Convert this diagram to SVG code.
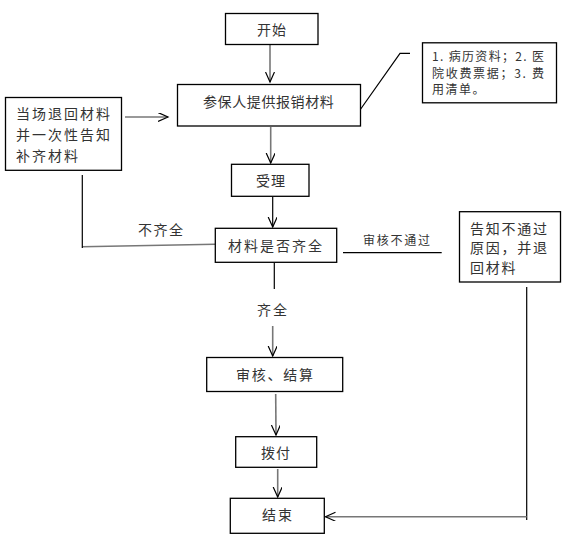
<svg xmlns="http://www.w3.org/2000/svg" width="574" height="550" viewBox="0 0 574 550">
<defs>
<style>
.box{fill:#fff;stroke:#000;stroke-width:1.3}
.t{font-family:"Noto Sans CJK SC","Noto Sans",sans-serif;font-size:14px;fill:#333;dominant-baseline:central}
.s{font-size:12px}
.g{stroke:#777;stroke-width:1.6;fill:none}
.k{stroke:#000;stroke-width:1.2;fill:none}
</style>
<marker id="ah" markerUnits="userSpaceOnUse" markerWidth="12" markerHeight="10" refX="10" refY="4.5" orient="auto">
<path d="M0,0 L10,4.5 L0,9" fill="none" stroke="#000" stroke-width="1.2"/>
</marker>
</defs>
<rect width="574" height="550" fill="#fff"/>
<g id="connectors">
<line class="g" x1="270" y1="45" x2="270" y2="82" marker-end="url(#ah)"/>
<line class="g" x1="270.7" y1="127" x2="270.7" y2="163" marker-end="url(#ah)"/>
<line class="g" x1="125" y1="117" x2="168" y2="117" marker-end="url(#ah)"/>
<line class="k" x1="272.7" y1="197" x2="272.7" y2="227" marker-end="url(#ah)"/>
<line class="g" x1="215" y1="244.3" x2="82" y2="246.8"/>
<line class="k" x1="82.3" y1="175" x2="82.3" y2="248"/>
<line class="k" x1="343" y1="252.7" x2="441.7" y2="252.7"/>
<line class="k" x1="274.3" y1="263" x2="274.3" y2="289"/>
<line class="g" x1="272.7" y1="326" x2="272.7" y2="356" marker-end="url(#ah)"/>
<line class="g" x1="275.7" y1="394" x2="276" y2="435" marker-end="url(#ah)"/>
<line class="g" x1="277.7" y1="469" x2="277.7" y2="497" marker-end="url(#ah)"/>
<line class="k" x1="526.7" y1="287" x2="526.7" y2="520"/>
<line class="g" x1="526.7" y1="516.7" x2="325.5" y2="516.7" marker-end="url(#ah)"/>
<polyline class="k" points="360,110 400,53.3 410,53.3"/>
</g>
<g id="start">
<rect class="box" x="225.5" y="13.5" width="92.5" height="31"/>
<text class="t" x="257" y="29" letter-spacing="1">开始</text>
</g>
<g id="submit">
<rect class="box" x="177.5" y="84.5" width="183" height="41.5"/>
<text class="t" x="203" y="101" letter-spacing="0.6">参保人提供报销材料</text>
</g>
<g id="note">
<rect class="box" x="422.5" y="42.8" width="134" height="60"/>
<text class="t s" x="432" y="55" textLength="112" lengthAdjust="spacing">1. 病历资料；2. 医</text>
<text class="t s" x="432" y="72" textLength="112" lengthAdjust="spacing">院收费票据；3. 费</text>
<text class="t s" x="432" y="88" letter-spacing="1.5">用清单。</text>
</g>
<g id="return">
<rect class="box" x="5.5" y="97.5" width="116" height="72.8"/>
<text class="t" x="16" y="113" letter-spacing="2">当场退回材料</text>
<text class="t" x="16" y="134" letter-spacing="2">并一次性告知</text>
<text class="t" x="16" y="155" letter-spacing="2">补齐材料</text>
</g>
<g id="accept">
<rect class="box" x="231.5" y="164.3" width="77.5" height="32"/>
<text class="t" x="256" y="180" letter-spacing="1">受理</text>
</g>
<g id="check">
<rect class="box" x="215.3" y="228.3" width="121.4" height="34"/>
<text class="t" x="228" y="245" letter-spacing="2">材料是否齐全</text>
</g>
<g id="label-incomplete">
<text class="t" x="138" y="229" letter-spacing="1.5">不齐全</text>
</g>
<g id="label-fail">
<text class="t s" x="363" y="239" letter-spacing="1.75">审核不通过</text>
</g>
<g id="label-complete">
<text class="t" x="257" y="309" letter-spacing="2">齐全</text>
</g>
<g id="reject">
<rect class="box" x="459.5" y="211.7" width="101" height="70.3"/>
<text class="t" x="470" y="227.5" letter-spacing="1.75">告知不通过</text>
<text class="t" x="470" y="247" letter-spacing="1.75">原因，并退</text>
<text class="t" x="470" y="267" letter-spacing="1.75">回材料</text>
</g>
<g id="audit">
<rect class="box" x="206.7" y="357.5" width="136" height="34"/>
<text class="t" x="236" y="374" letter-spacing="1.75">审核、结算</text>
</g>
<g id="pay">
<rect class="box" x="235.7" y="436.7" width="81" height="30.6"/>
<text class="t" x="261" y="452" letter-spacing="1">拨付</text>
</g>
<g id="end">
<rect class="box" x="230.3" y="498.3" width="94" height="35"/>
<text class="t" x="262" y="513.5" letter-spacing="2">结束</text>
</g>
</svg>
